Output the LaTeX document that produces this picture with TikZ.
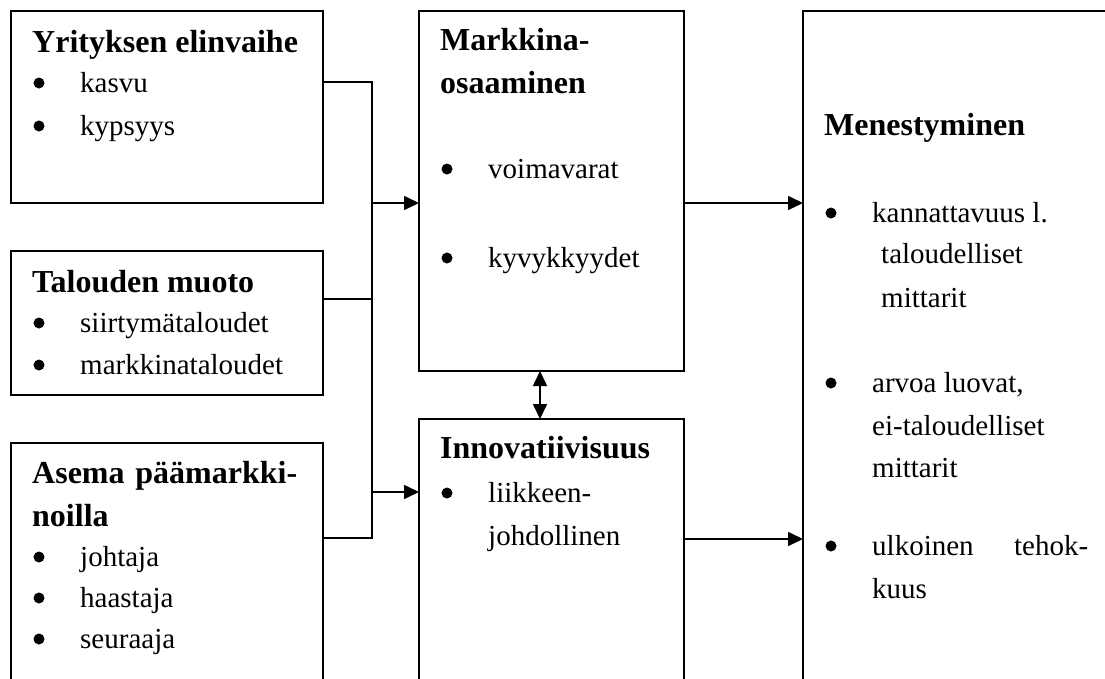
\documentclass[tikz,border=0pt]{standalone}
\usepackage{fontspec}
\setmainfont{Liberation Serif}
\usetikzlibrary{arrows.meta}
\tikzset{
  box/.style={draw, line width=1.6pt, rectangle, inner sep=0pt, outer sep=0pt, anchor=north west},
  hd/.style={anchor=base west, inner sep=0pt, font=\fontsize{32}{38}\selectfont\bfseries},
  tx/.style={anchor=base west, inner sep=0pt, font=\fontsize{29}{35}\selectfont},
  bul/.style={circle, fill=black, inner sep=0pt, minimum size=11pt, yshift=2pt},
  conn/.style={line width=1.6pt},
  arr/.style={conn, -{Triangle[length=15pt,width=14pt]}},
  darr/.style={conn, {Triangle[length=15pt,width=14pt]}-{Triangle[length=15pt,width=14pt]}}
}
\begin{document}
\begin{tikzpicture}[x=1pt,y=-1pt]
\useasboundingbox (0,0) rectangle (1105,678);
\clip (0,0) rectangle (1105,678);
% boxes
\node[box, minimum width=312pt, minimum height=192pt] (b1) at (11,11) {};
\node[box, minimum width=312pt, minimum height=144pt] (b2) at (11,251) {};
\node[box, minimum width=312pt, minimum height=300pt] (b3) at (11,443) {};
\node[box, minimum width=265pt, minimum height=360pt] (mk) at (419,11) {};
\node[box, minimum width=265pt, minimum height=300pt] (in) at (419,419) {};
\node[box, minimum width=350pt, minimum height=720pt] (me) at (803,11) {};
% box 1
\node[hd] (t1) at (32,52) {Yrityksen elinvaihe};
\node[bul] (t1a) at (39,85) {};
\node[tx] (t1b) at (80,92) {kasvu};
\node[bul] (t1c) at (39,128) {};
\node[tx] (t1d) at (80,135) {kypsyys};
% box 2
\node[hd] (t2) at (32,292) {Talouden muoto};
\node[bul] (t2a) at (39,325) {};
\node[tx] (t2b) at (80,332) {siirtymätaloudet};
\node[bul] (t2c) at (39,367) {};
\node[tx] (t2d) at (80,374) {markkinataloudet};
% box 3
\node[hd] (t3) at (32,483) {\hbox to 265pt{Asema\hfil päämarkki-}};
\node[hd] (t3b) at (32,526) {noilla};
\node[bul] (t3c) at (39,559) {};
\node[tx] (t3d) at (80,566) {johtaja};
\node[bul] (t3e) at (39,600) {};
\node[tx] (t3f) at (80,607) {haastaja};
\node[bul] (t3g) at (39,641) {};
\node[tx] (t3h) at (80,648) {seuraaja};
% markkina
\node[hd] (t4) at (440,50) {Markkina-};
\node[hd] (t4b) at (440,93) {osaaminen};
\node[bul] (t4c) at (447,171) {};
\node[tx] (t4d) at (488,178) {voimavarat};
\node[bul] (t4e) at (447,260) {};
\node[tx] (t4f) at (488,267) {kyvykkyydet};
% innovatiivisuus
\node[hd] (t5) at (440,458) {Innovatiivisuus};
\node[bul] (t5a) at (447,495) {};
\node[tx] (t5b) at (488,502) {liikkeen-};
\node[tx] (t5c) at (488,545) {johdollinen};
% menestyminen
\node[hd] (t6) at (824,135) {Menestyminen};
\node[bul] (t6a) at (831,215) {};
\node[tx] (t6b) at (872,222) {kannattavuus l.};
\node[tx] (t6c) at (881,263) {taloudelliset};
\node[tx] (t6d) at (881,307) {mittarit};
\node[bul] (t6e) at (831,385) {};
\node[tx] (t6f) at (872,392) {arvoa luovat,};
\node[tx] (t6g) at (872,435) {ei-taloudelliset};
\node[tx] (t6h) at (872,477) {mittarit};
\node[bul] (t6i) at (831,548) {};
\node[tx] (t6j) at (872,555) {\hbox to 216pt{ulkoinen\hfil tehok-}};
\node[tx] (t6k) at (872,598) {kuus};
% connectors
\coordinate (j1) at (372,82);
\coordinate (j2) at (372,299);
\coordinate (j3) at (372,538);
\coordinate (ja) at (372,203);
\coordinate (jb) at (372,492);
\coordinate (ka) at (540,0);
\coordinate (oa) at (0,203);
\coordinate (ob) at (0,539);
\draw[conn] (b1.east |- j1) -- (j1) -- (j3) -- (b3.east |- j3);
\draw[conn] (b2.east |- j2) -- (j2);
\draw[arr] (ja) -- (mk.west |- ja);
\draw[arr] (jb) -- (in.west |- jb);
\draw[darr] (mk.south -| ka) -- (in.north -| ka);
\draw[arr] (mk.east |- oa) -- (me.west |- oa);
\draw[arr] (in.east |- ob) -- (me.west |- ob);
\end{tikzpicture}
\end{document}
